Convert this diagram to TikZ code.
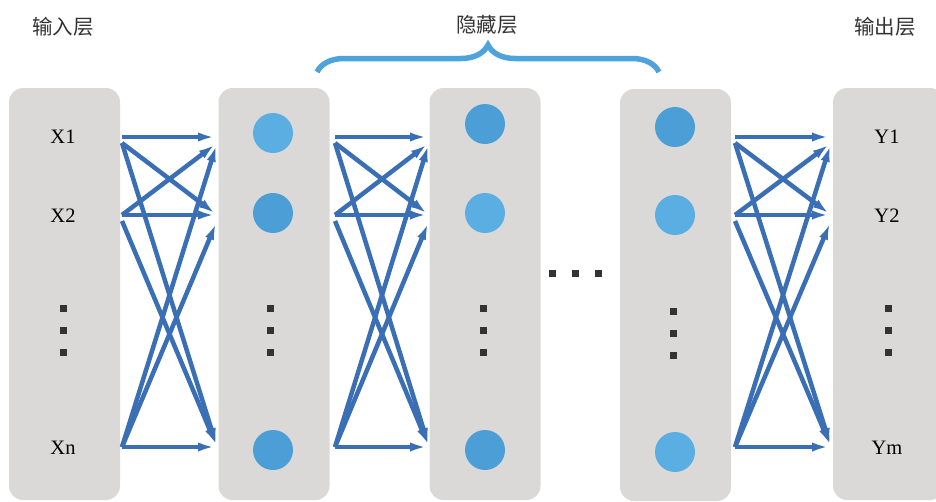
\documentclass[tikz,border=0pt]{standalone}
\usepackage{fontspec}
\setmainfont{Liberation Serif}
\newfontfamily\cjkfont{Noto Sans CJK SC}
\usetikzlibrary{arrows.meta,decorations.pathreplacing,calc}

\definecolor{boxgray}{HTML}{DAD9D8}
\definecolor{unitlight}{HTML}{5BAEE2}
\definecolor{unitdark}{HTML}{4C9FD6}
\definecolor{arrowblue}{HTML}{3A6FB5}
\definecolor{bracecol}{HTML}{4FA3DC}

\begin{document}
\begin{tikzpicture}[x=1pt, y=-1pt, font=\fontsize{20.5}{24}\selectfont,
  layer/.style={fill=boxgray, rounded corners=14pt, minimum width=111pt, minimum height=412pt, inner sep=0pt},
  unit/.style={circle, fill=#1, minimum size=40pt, inner sep=0pt},
  vdot/.style={fill=black!80, minimum size=7pt, inner sep=0pt},
  title/.style={font=\cjkfont\fontsize{20.5}{22}\selectfont, text=black!80},
  arr/.style={-{Latex[length=19pt,width=9pt]}, line width=4.5pt, draw=arrowblue},
  brace/.style={decorate, decoration={brace, amplitude=27pt}, line width=5.5pt, draw=bracecol}]
\clip (0,0) rectangle (936,501);

% layers
\node[layer] (L1) at (64.5,294) {};
\node[layer] (L2) at (274,294) {};
\node[layer] (L3) at (485,294) {};
\node[layer] (L4) at (675.5,295) {};
\node[layer] (L5) at (888.5,294) {};

% titles
\node[title] (tin) at (63,27) {输入层};
\node[title] (thid) at (487,25) {隐藏层};
\node[title] (tout) at (885,27) {输出层};
\draw[brace] (317,72) -- (659,72);

% input / output labels
\node (x1) at (63,137) {X1};
\node (x2) at (63,216) {X2};
\node (xn) at (63,448) {Xn};
\node (y1) at (887,137) {Y1};
\node (y2) at (887,216) {Y2};
\node (ym) at (887,448) {Ym};

% hidden units
\node[unit=unitlight] (h11) at (273,133) {};
\node[unit=unitdark]  (h12) at (273,213) {};
\node[unit=unitdark]  (h1n) at (273,450) {};
\node[unit=unitdark]  (h21) at (485,124) {};
\node[unit=unitlight] (h22) at (485,213) {};
\node[unit=unitdark]  (h2n) at (485,450) {};
\node[unit=unitdark]  (h31) at (675,127) {};
\node[unit=unitlight] (h32) at (675,215) {};
\node[unit=unitlight] (h3n) at (675,452) {};

% vertical dots
\foreach \c/\x/\y in {a/63/308, b/270/308, c/483/308, d/673/311, e/888/308} {
  \node[vdot] (\c1) at (\x,\y) {};
  \node[vdot] (\c2) at (\x,\y+22) {};
  \node[vdot] (\c3) at (\x,\y+44) {};
}
% horizontal dots
\foreach \i/\x in {1/552, 2/575, 3/598}
  \node[vdot] (m\i) at (\x,273) {};

% connections
\foreach \g/\s/\e in {1/122/217, 2/335/429, 3/735/831} {
  \foreach \i/\y in {1/137, 2/215, 3/447} {
    \coordinate (s\g\i) at (\s,\y);
    \coordinate (e\g\i) at (\e,\y);
  }
  \foreach \i in {1,2,3}
    \foreach \j in {1,2,3} {
      \pgfmathsetmacro\so{\j>\i ? 6 : 0}
      \pgfmathsetmacro\eo{\i>\j ? 6 : 0}
      \draw[arr] ($(s\g\i)+(0,\so)$) -- ($(e\g\j)+(0,\eo)$);
    }
}
\end{tikzpicture}
\end{document}
